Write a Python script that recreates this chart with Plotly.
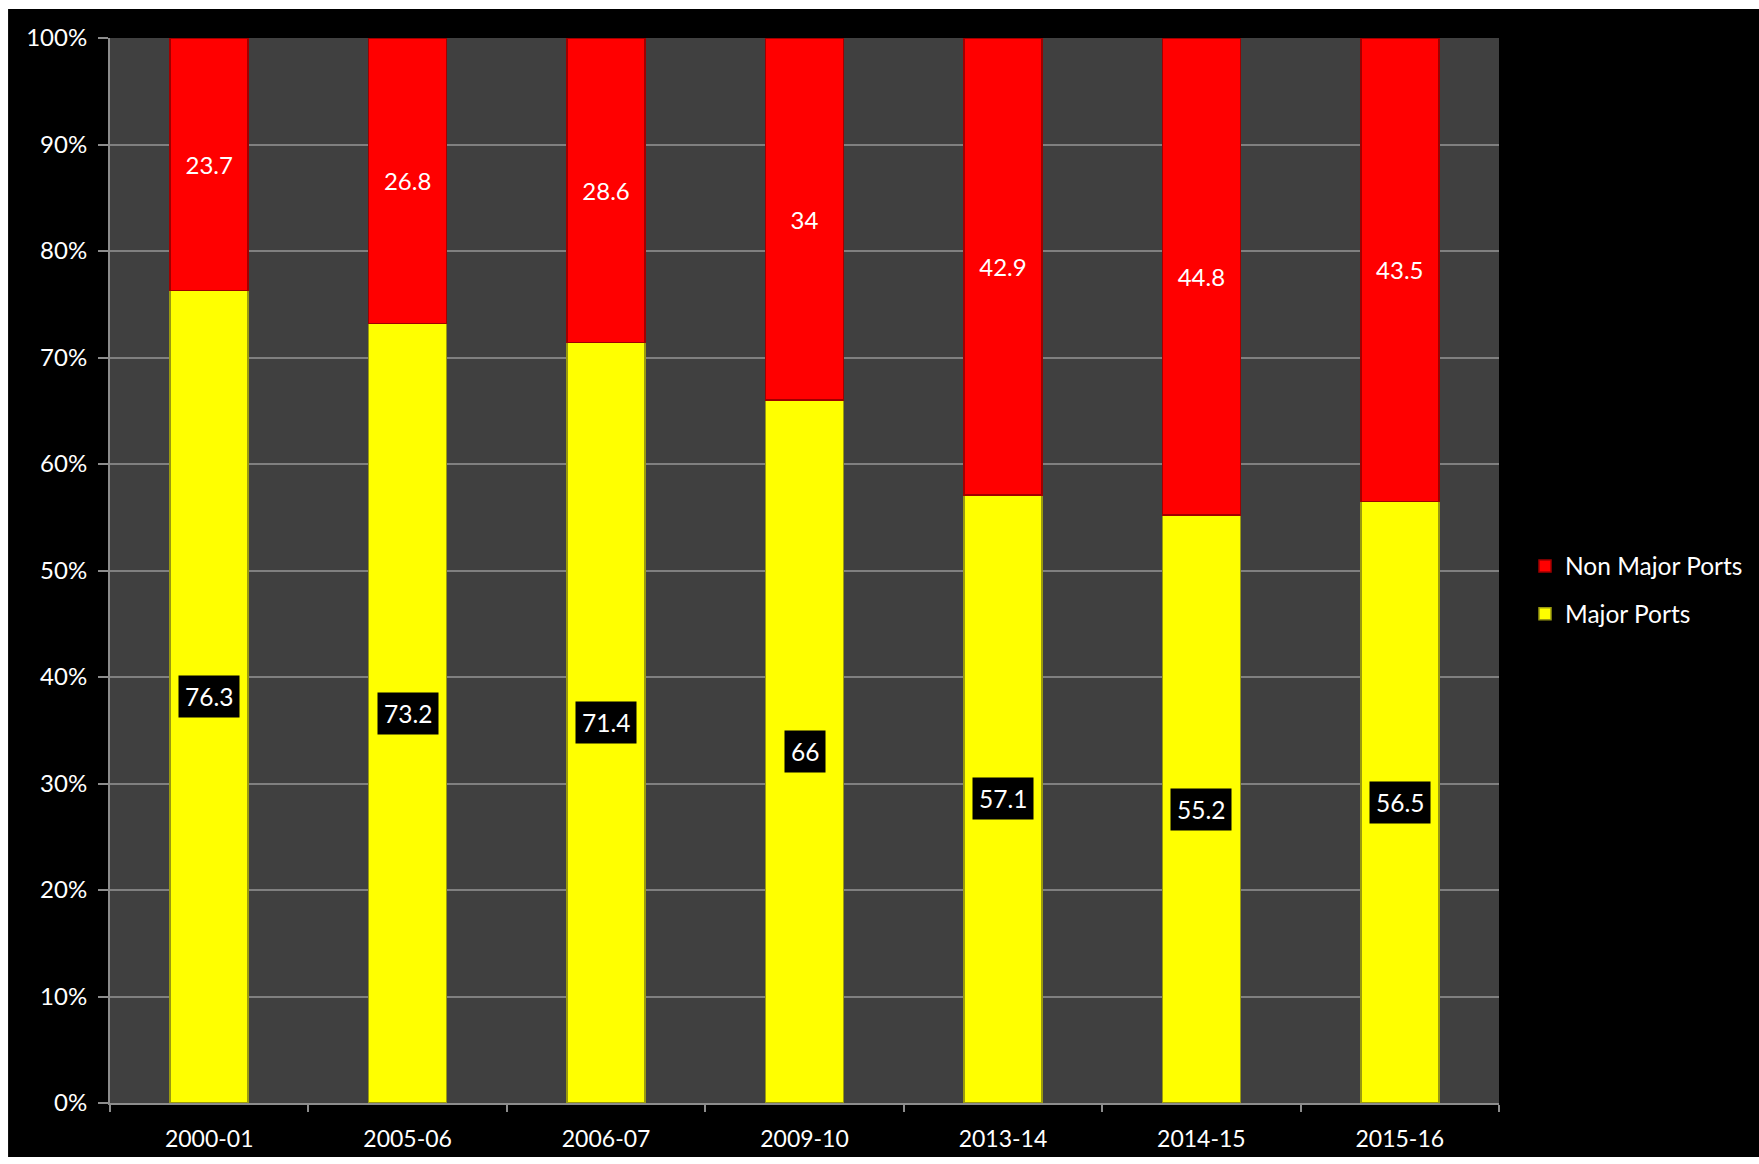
import plotly.graph_objects as go

years = ["2000-01", "2005-06", "2006-07", "2009-10", "2013-14", "2014-15", "2015-16"]
major_ports = [76.3, 73.2, 71.4, 66, 57.1, 55.2, 56.5]
non_major_ports = [23.7, 26.8, 28.6, 34, 42.9, 44.8, 43.5]
y_ticks = [0, 10, 20, 30, 40, 50, 60, 70, 80, 90, 100]

FONT = "Lato, 'Open Sans', sans-serif"
W, H = 1759, 1164
ML, MR, MT, MB = 110, 259, 38, 61
PW, PH = W - ML - MR, H - MT - MB

def px_x(px):
    return (px - ML) / PW

def px_y(py):
    return (H - MB - py) / PH

fig = go.Figure()
fig.add_trace(go.Bar(
    x=years, y=major_ports, name="Major Ports",
    marker=dict(color="#FFFF00", line=dict(color="#9a9a10", width=1.5)),
    legendgroup="major", legendrank=2, hoverinfo="skip",
))
fig.add_trace(go.Bar(
    x=years, y=non_major_ports, name="Non Major Ports",
    marker=dict(color="#FF0000", line=dict(color="#a00000", width=1.5)),
    text=[f"{v:g}" for v in non_major_ports],
    textposition="inside", insidetextanchor="middle", textangle=0,
    textfont=dict(color="white", size=24, family=FONT),
    constraintext="none",
    legendgroup="nonmajor", legendrank=1, hoverinfo="skip",
))

annotations = []
for yr, v in zip(years, major_ports):
    annotations.append(dict(
        x=yr, y=v / 2, xref="x", yref="y", text=f"{v:g}", showarrow=False,
        font=dict(color="white", size=24.5, family=FONT),
        bgcolor="black", borderpad=6,
    ))

shapes = [
    dict(type="rect", xref="paper", yref="paper", layer="below",
         x0=px_x(8), x1=px_x(W + 5), y0=px_y(1157), y1=px_y(9),
         fillcolor="black", line=dict(width=0)),
    dict(type="rect", xref="paper", yref="paper", layer="below",
         x0=0, x1=1, y0=0, y1=1, fillcolor="#404040", line=dict(width=0)),
]

fig.update_layout(
    width=W, height=H,
    margin=dict(l=ML, r=MR, t=MT, b=MB, pad=0),
    barmode="stack", bargap=0.607,
    paper_bgcolor="white", plot_bgcolor="#404040",
    font=dict(family=FONT, color="white", size=22),
    shapes=shapes, annotations=annotations,
    legend=dict(
        x=px_x(1525), xanchor="left", y=px_y(590), yanchor="middle",
        traceorder="grouped", tracegroupgap=13,
        font=dict(size=24.5, color="white", family=FONT),
        bgcolor="rgba(0,0,0,0)", itemwidth=30,
    ),
    showlegend=True,
)
fig.update_yaxes(
    range=[0, 100], tickvals=y_ticks, ticktext=[f"{t}%" for t in y_ticks],
    showgrid=True, gridcolor="#808080", gridwidth=1.5,
    showline=True, linecolor="#8c8c8c", linewidth=2,
    ticks="outside", ticklen=10, tickcolor="#8c8c8c", tickwidth=2,
    tickfont=dict(size=24, color="white", family=FONT),
    ticklabelstandoff=6,
    zeroline=False,
)
fig.update_xaxes(
    type="category",
    showgrid=False, showline=True, linecolor="#8c8c8c", linewidth=2,
    ticks="outside", ticklen=7, tickcolor="#8c8c8c", tickwidth=2,
    tickson="boundaries",
    tickfont=dict(size=23, color="white", family=FONT),
    ticklabelstandoff=14,
)
fig.write_html("out.html")
